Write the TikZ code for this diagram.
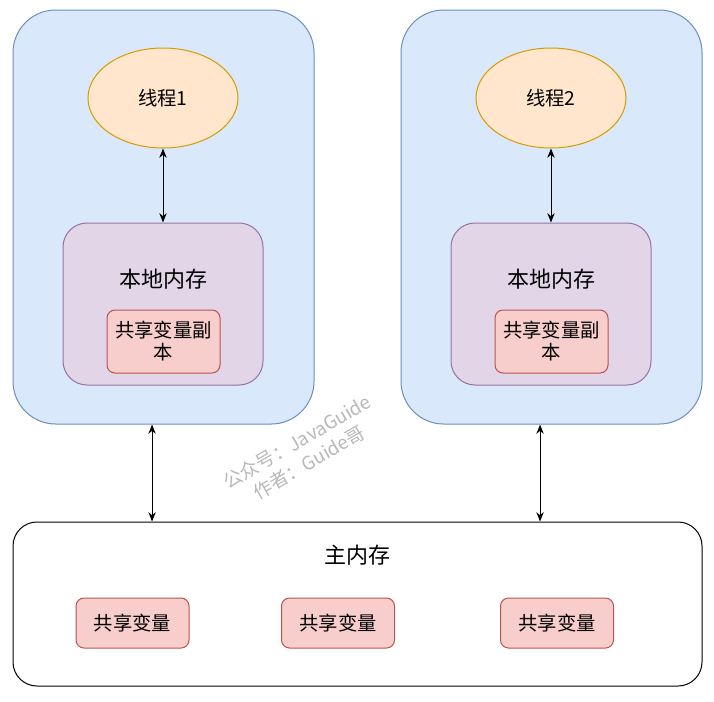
\documentclass[tikz,border=0pt]{standalone}
\usepackage{fontspec}
\setmainfont{Noto Sans CJK SC}
\usetikzlibrary{arrows.meta}
\usetikzlibrary{positioning}
\usetikzlibrary{shapes.geometric}
\definecolor{workFill}{HTML}{DAE8FC}
\definecolor{workLine}{HTML}{6C8EBF}
\definecolor{threadFill}{HTML}{FFE6CC}
\definecolor{threadLine}{HTML}{D79B00}
\definecolor{memFill}{HTML}{E1D5E7}
\definecolor{memLine}{HTML}{9673A6}
\definecolor{varFill}{HTML}{F8CECC}
\definecolor{varLine}{HTML}{B85450}
\definecolor{markGray}{HTML}{B8B8B8}

\begin{document}
\begin{tikzpicture}[
    x=0.75pt, y=-0.75pt,
    line width=0.75pt,
    workArea/.style={
        rectangle, draw=workLine, fill=workFill,
        rounded corners=32pt,
        minimum width=225.75pt,
        minimum height=310.5pt
    },
    threadNode/.style={
        ellipse, draw=threadLine, fill=threadFill,
        minimum width=112.5pt,
        minimum height=75pt,
        inner sep=0pt,
        font=\fontsize{14.5}{17}\selectfont
    },
    localMem/.style={
        rectangle, draw=memLine, fill=memFill,
        rounded corners=18pt,
        minimum width=150pt,
        minimum height=121.5pt
    },
    varBox/.style={
        rectangle, draw=varLine, fill=varFill,
        rounded corners=6pt,
        minimum width=84.75pt,
        inner sep=0pt,
        align=center,
        font=\fontsize{14.5}{16.5}\selectfont
    },
    bigLabel/.style={
        inner sep=0pt,
        font=\fontsize{16.5}{19}\selectfont
    },
    link/.style={
        <->, >={Stealth[length=7pt,width=5.5pt]}, black
    }
]
\useasboundingbox (0,0) rectangle (714,701);

% two working areas
\node[workArea] (workL) at (163.5,217) {};
\node[workArea] (workR) at (551.5,217) {};

\node[threadNode] (thr1) at (163,98) {线程1};
\node[threadNode] (thr2) at (551,98) {线程2};

\node[localMem] (mem1) at (163,304) {};
\node[localMem] (mem2) at (551,304) {};
\node[bigLabel] (memLab1) at (163,279) {本地内存};
\node[bigLabel] (memLab2) at (551,279) {本地内存};

\node[varBox, minimum height=47.25pt] (copy1) at (163.5,341.5) {共享变量副\\本};
\node[varBox, minimum height=47.25pt] (copy2) at (551.5,341.5) {共享变量副\\本};

% main memory
\node[rectangle, draw=black, fill=white, rounded corners=18pt,
      minimum width=516.75pt, minimum height=123pt] (mainMem) at (357.5,604) {};
\node[bigLabel] (mainLab) at (357,555) {主内存};
\node[varBox, minimum height=37.5pt] (var1) at (132.5,623) {共享变量};
\node[varBox, minimum height=37.5pt] (var2) at (338,623) {共享变量};
\node[varBox, minimum height=37.5pt] (var3) at (557,623) {共享变量};

% watermark
\node[rotate=30, text=markGray, align=center, inner sep=0pt,
      font=\fontsize{14}{18}\selectfont] (mark) at (303,452)
      {公众号：JavaGuide\\作者：Guide哥};

\draw[link] (thr1) -- (mem1);
\draw[link] (thr2) -- (mem2);
\draw[link] ([xshift=-8.6pt]workL.south) -- ([xshift=-8.6pt]workL.south |- mainMem.north);
\draw[link] ([xshift=-8.6pt]workR.south) -- ([xshift=-8.6pt]workR.south |- mainMem.north);
\end{tikzpicture}
\end{document}
